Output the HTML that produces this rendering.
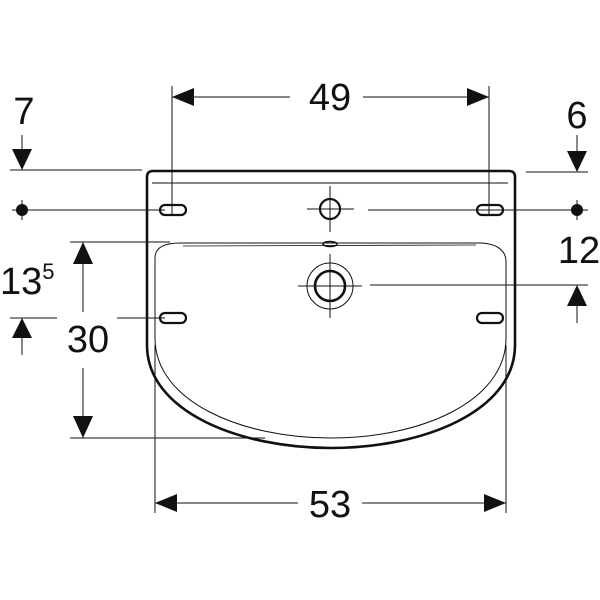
<!DOCTYPE html>
<html><head><style>body{margin:0;background:#fff}svg{display:block}text{font-family:"Liberation Sans",sans-serif;fill:#111}</style></head><body>
<svg width="600" height="600" viewBox="0 0 600 600" xmlns="http://www.w3.org/2000/svg">
<g fill="none" stroke="#111">
<path d="M147,345 L147,177 Q147,171 153,171 L509,171 Q515,171 515,177 L515,345 C515,412 422,448 331,448 C240,448 147,412 147,345" stroke-width="2.6"/>
<line x1="152" y1="183" x2="508" y2="183" stroke-width="1"/>
<path d="M155,338 L155,258 Q155,243 180,243 L482,243 Q506,245 506,262 L506,338 C506,402 420,438 331,438 C242,438 155,402 155,338" stroke-width="1"/>
<line x1="183" y1="246" x2="476" y2="245" stroke-width="0.8"/>
<g stroke-width="2.2">
<rect x="160" y="205" width="26" height="10" rx="5"/>
<rect x="477" y="205" width="26" height="10" rx="5"/>
<rect x="160" y="313" width="26" height="10" rx="5"/>
<rect x="477" y="313" width="26" height="10" rx="5"/>
<ellipse cx="330" cy="244" rx="7" ry="2.5" stroke-width="1.5"/>
<circle cx="330" cy="209" r="10"/>
<circle cx="330" cy="286" r="15" stroke-width="2.6"/>
</g>
<circle cx="330" cy="286" r="23" stroke-width="1"/>
<g stroke-width="1">
<line x1="307" y1="209" x2="354" y2="209"/><line x1="330" y1="186" x2="330" y2="232"/>
<line x1="298" y1="286" x2="362" y2="286"/><line x1="330" y1="254" x2="330" y2="318"/>
<line x1="172" y1="86" x2="172" y2="214"/><line x1="489" y1="86" x2="489" y2="214"/>
<line x1="172" y1="97" x2="290" y2="97"/><line x1="363" y1="97" x2="489" y2="97"/>
<line x1="155" y1="345" x2="155" y2="513"/><line x1="506" y1="345" x2="506" y2="513"/>
<line x1="155" y1="503" x2="298" y2="503"/><line x1="362" y1="503" x2="506" y2="503"/>
<line x1="10" y1="170" x2="142" y2="170"/><line x1="22" y1="135" x2="22" y2="160"/>
<line x1="12" y1="210" x2="165" y2="210"/><line x1="22" y1="200" x2="22" y2="220"/>
<line x1="70" y1="242" x2="170" y2="242"/><line x1="83" y1="255" x2="83" y2="312"/><line x1="83" y1="368" x2="83" y2="438"/>
<line x1="70" y1="438" x2="265" y2="438"/>
<line x1="10" y1="318" x2="57" y2="318"/><line x1="117" y1="318" x2="165" y2="318"/>
<line x1="22" y1="330" x2="22" y2="355"/>
<line x1="526" y1="172" x2="588" y2="172"/><line x1="577" y1="135" x2="577" y2="160"/>
<line x1="368" y1="210" x2="588" y2="210"/><line x1="577" y1="200" x2="577" y2="220"/>
<line x1="370" y1="285" x2="588" y2="285"/><line x1="577" y1="297" x2="577" y2="323"/>
</g>
</g>
<g fill="#111">
<polygon points="172,97 194,88 194,106"/><polygon points="489,97 467,88 467,106"/>
<polygon points="155,503 177,494 177,512"/><polygon points="506,503 484,494 484,512"/>
<polygon points="22,170 12,149 32,149"/><polygon points="577,172 567,151 587,151"/>
<polygon points="83,242 73,264 93,264"/><polygon points="83,438 73,416 93,416"/>
<polygon points="22,318 12,338 32,338"/><polygon points="577,285 567,306 587,306"/>
<circle cx="22" cy="210" r="6"/><circle cx="577" cy="210" r="6"/>
</g>
<text x="330" y="110" font-size="38" text-anchor="middle">49</text>
<text x="330" y="517" font-size="38" text-anchor="middle">53</text>
<text x="24" y="124" font-size="38" text-anchor="middle">7</text>
<text x="577" y="128" font-size="38" text-anchor="middle">6</text>
<text x="579" y="263" font-size="38" text-anchor="middle">12</text>
<text x="88" y="352" font-size="38" text-anchor="middle">30</text>
<text x="0" y="294" font-size="38">13<tspan font-size="22" dy="-15">5</tspan></text>
</svg>
</body></html>
